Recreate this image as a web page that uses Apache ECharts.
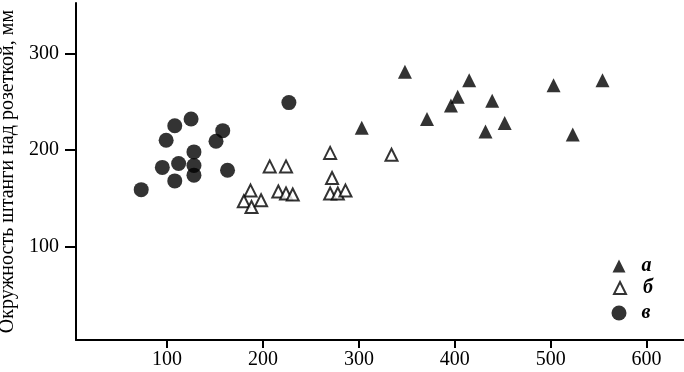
<!DOCTYPE html>
<html>
<head>
<meta charset="utf-8">
<script src="https://cdn.jsdelivr.net/npm/echarts@6/dist/echarts.min.js"></script>
<style>html,body{margin:0;padding:0;background:#fff;}#c{width:684px;height:372px;}</style>
</head>
<body>
<div id="c"></div>
<script>
// Series a (filled triangles): [stem girth x, girth above rosette y]
const seriesA = [
  [348, 281], [415, 272], [403, 255], [396, 246], [439, 251], [371, 232],
  [303, 223], [452, 228], [432, 219], [503, 267], [554, 272], [523, 216]
];
// Series б (open triangles)
const seriesB = [
  [207, 183], [224, 183], [270, 197], [272, 171], [334, 195],
  [187, 158], [180, 147], [188, 141], [198, 148],
  [216, 157], [224, 155], [231, 154], [270, 155], [278, 155], [286, 158]
];
// Series в (filled circles)
const seriesC = [
  [73, 159], [108, 225], [125, 232], [99, 210], [158, 220], [151, 209],
  [128, 198], [95, 182], [112, 186], [128, 184], [128, 174], [108, 168],
  [163, 179], [227, 249]
];
const xTicks = [100, 200, 300, 400, 500, 600];
const yTicks = [100, 200, 300];
const names = ['а', 'б', 'в'];
const yTitle = 'Окружность штанги над розеткой, мм';

const font = 'Liberation Serif';
const chart = echarts.init(document.getElementById('c'));
const legendBase = (name, top, size, pad) => ({
  data: [name], orient: 'vertical', left: 619 - size / 2, top: top,
  itemWidth: size, itemHeight: size, padding: 0, selectedMode: false,
  textStyle: { fontFamily: font, fontStyle: 'italic', fontWeight: 'bold', fontSize: 20, color: '#000', padding: [0, 0, 0, pad] }
});
chart.setOption({
  animation: false,
  backgroundColor: '#fff',
  grid: { left: 76, right: 0, top: 3, bottom: 32, containLabel: false, outerBoundsMode: 'none' },
  xAxis: {
    type: 'value', min: 5, max: 639,
    axisLine: { lineStyle: { color: '#000', width: 2 } },
    axisTick: { show: true, length: 8, customValues: xTicks, lineStyle: { color: '#000', width: 2 } },
    axisLabel: { customValues: xTicks, margin: 10, fontFamily: font, fontSize: 20, color: '#000' },
    splitLine: { show: false }
  },
  yAxis: {
    type: 'value', min: 3.5, max: 352,
    name: yTitle, nameLocation: 'middle', nameRotate: 90, nameGap: 58,
    nameTextStyle: { fontFamily: font, fontSize: 20, color: '#000' },
    axisLine: { show: true, lineStyle: { color: '#000', width: 2 } },
    axisTick: { show: true, length: 11, customValues: yTicks, lineStyle: { color: '#000', width: 2 } },
    axisLabel: { customValues: yTicks, margin: 17, fontFamily: font, fontSize: 20, color: '#000' },
    splitLine: { show: false }
  },
  legend: [
    legendBase(names[0], 256, 13, 11),
    legendBase(names[1], 278, 12, 12),
    legendBase(names[2], 303, 15, 10)
  ],
  series: [
    { name: names[0], type: 'scatter', data: seriesA, symbol: 'triangle', symbolSize: 14,
      itemStyle: { color: '#000' } },
    { name: names[1], type: 'scatter', data: seriesB, symbol: 'triangle', symbolSize: 12,
      itemStyle: { color: '#fff', borderColor: '#000', borderWidth: 2 } },
    { name: names[2], type: 'scatter', data: seriesC, symbol: 'circle', symbolSize: 15,
      itemStyle: { color: '#000' } }
  ]
});
</script>
</body>
</html>
